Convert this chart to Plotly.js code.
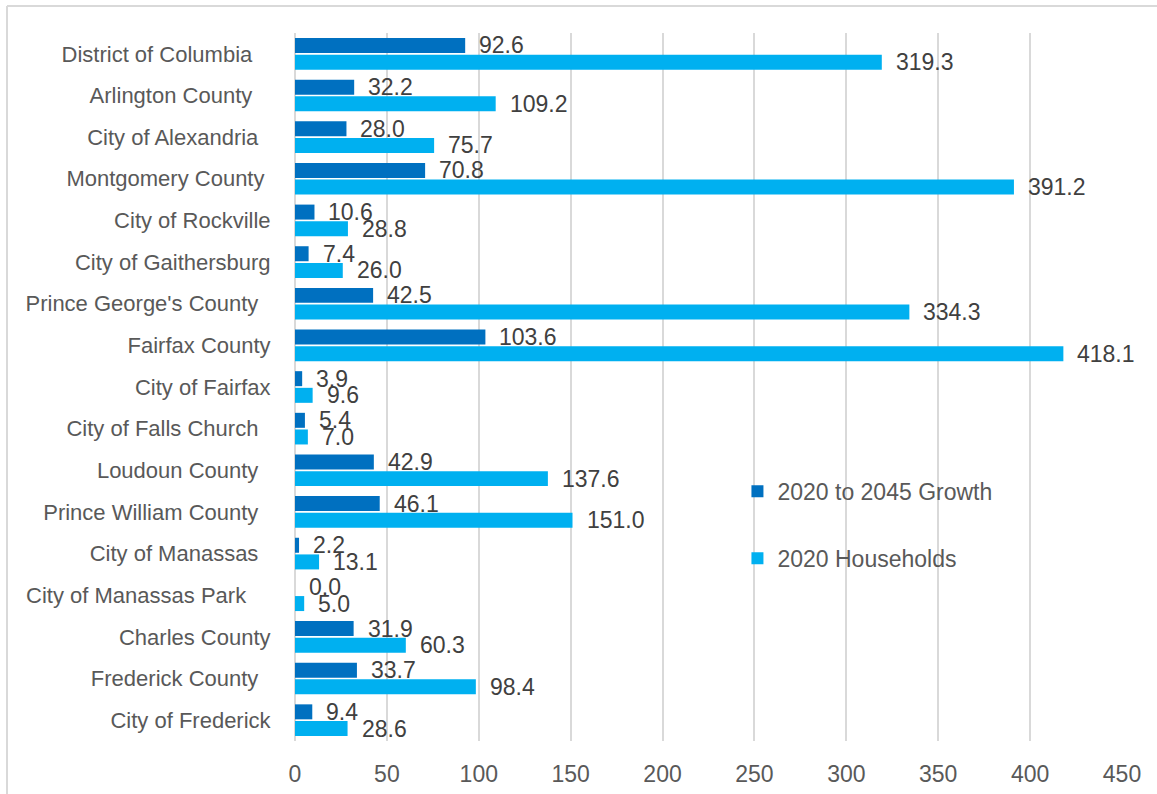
<!DOCTYPE html>
<html>
<head>
<meta charset="utf-8">
<script src="https://cdn.plot.ly/plotly-3.0.1.min.js"></script>
<style>
  html, body { margin: 0; padding: 0; background: #ffffff; }
  #chart { width: 1157px; height: 794px; }
</style>
</head>
<body>
<div id="chart"></div>
<script>
// Categories (top to bottom)
const categories = [
  "District of Columbia",
  "Arlington County",
  "City of Alexandria",
  "Montgomery County",
  "City of Rockville",
  "City of Gaithersburg",
  "Prince George's County",
  "Fairfax County",
  "City of Fairfax",
  "City of Falls Church",
  "Loudoun County",
  "Prince William County",
  "City of Manassas",
  "City of Manassas Park",
  "Charles County",
  "Frederick County",
  "City of Frederick"
];

// Tick labels as they appear (source labels carry trailing spaces)
const tickLabels = [
  "District of Columbia\u00a0\u00a0\u00a0",
  "Arlington County\u00a0\u00a0\u00a0",
  "City of Alexandria\u00a0\u00a0",
  "Montgomery County\u00a0",
  "City of Rockville",
  "City of Gaithersburg",
  "Prince George's County\u00a0\u00a0",
  "Fairfax County",
  "City of Fairfax",
  "City of Falls Church\u00a0\u00a0",
  "Loudoun County\u00a0\u00a0",
  "Prince William County\u00a0\u00a0",
  "City of Manassas\u00a0\u00a0",
  "City of Manassas Park\u00a0\u00a0\u00a0\u00a0",
  "Charles County",
  "Frederick County\u00a0\u00a0",
  "City of Frederick"
];

// Series values (thousands)
const growth2020to2045 = [92.6, 32.2, 28.0, 70.8, 10.6, 7.4, 42.5, 103.6, 3.9, 5.4, 42.9, 46.1, 2.2, 0.0, 31.9, 33.7, 9.4];
const households2020   = [319.3, 109.2, 75.7, 391.2, 28.8, 26.0, 334.3, 418.1, 9.6, 7.0, 137.6, 151.0, 13.1, 5.0, 60.3, 98.4, 28.6];

const seriesNames = ["2020 to 2045 Growth", "2020 Households"];
const xTicks = [0, 50, 100, 150, 200, 250, 300, 350, 400, 450];

const FONT = "Liberation Sans, Arial, sans-serif";
const labelFont = { family: FONT, size: 23, color: "#404040" };

const BARGAP = 0.2, BARGROUPGAP = 0.1;
const TOP = 33, BOTTOM = 53, H = 794;
const bandPx = (H - TOP - BOTTOM) / categories.length;
const halfOffset = bandPx * (1 - BARGAP) / 4;   // centre offset of each bar in a group

const traces = [
  {
    type: "bar",
    orientation: "h",
    name: seriesNames[0],
    legendgroup: "g1",
    y: categories,
    x: growth2020to2045,
    marker: { color: "#0070C0" },
    hoverinfo: "x+y"
  },
  {
    type: "bar",
    orientation: "h",
    name: seriesNames[1],
    legendgroup: "g2",
    y: categories,
    x: households2020,
    marker: { color: "#00B0F0" },
    hoverinfo: "x+y"
  }
];

// Data labels placed through the axes, just right of each bar end
function labelsFor(values, yshift) {
  return values.map((v, i) => ({
    xref: "x", yref: "y",
    x: v, y: categories[i],
    text: v.toFixed(1),
    showarrow: false,
    xanchor: "left",
    yanchor: "middle",
    xshift: 12,
    yshift: yshift,
    font: labelFont
  }));
}

const annotations = labelsFor(growth2020to2045, halfOffset)
  .concat(labelsFor(households2020, -halfOffset));

const layout = {
  width: 1157,
  height: H,
  margin: { l: 295, r: 35, t: TOP, b: BOTTOM, pad: 0 },
  paper_bgcolor: "#ffffff",
  plot_bgcolor: "#ffffff",
  font: { family: FONT, size: 23, color: "#595959" },
  barmode: "group",
  bargap: BARGAP,
  bargroupgap: BARGROUPGAP,
  showlegend: true,
  legend: {
    x: 0.535, xanchor: "left",
    y: 0.383, yanchor: "top",
    bgcolor: "rgba(0,0,0,0)",
    borderwidth: 0,
    traceorder: "grouped",
    tracegroupgap: 34,
    font: { family: FONT, size: 23, color: "#595959" }
  },
  xaxis: {
    range: [0, 450],
    tickmode: "array",
    tickvals: xTicks,
    ticktext: xTicks.map(String),
    showgrid: true,
    gridcolor: "#d9d9d9",
    gridwidth: 2,
    zeroline: true,
    zerolinecolor: "#d9d9d9",
    zerolinewidth: 2,
    showline: false,
    ticks: "outside",
    ticklen: 12,
    tickcolor: "rgba(0,0,0,0)",
    tickfont: { family: FONT, size: 23, color: "#595959" },
    fixedrange: true
  },
  yaxis: {
    type: "category",
    range: [16.5, -0.5],
    tickmode: "array",
    tickvals: categories,
    ticktext: tickLabels,
    showgrid: false,
    zeroline: false,
    showline: false,
    ticks: "outside",
    ticklen: 19,
    tickcolor: "rgba(0,0,0,0)",
    tickfont: { family: FONT, size: 22, color: "#595959" },
    fixedrange: true
  },
  annotations: annotations,
  shapes: [
    { type: "line", xref: "paper", yref: "paper",
      x0: (7 - 295) / 827, x1: (7 - 295) / 827, y0: (741 - 6) / 708, y1: (741 - 800) / 708,
      line: { color: "#d9d9d9", width: 2 } },
    { type: "line", xref: "paper", yref: "paper",
      x0: (7 - 295) / 827, x1: (1160 - 295) / 827, y0: (741 - 6) / 708, y1: (741 - 6) / 708,
      line: { color: "#d9d9d9", width: 2 } }
  ]
};

Plotly.newPlot("chart", traces, layout, { displayModeBar: false, staticPlot: true });
</script>
</body>
</html>
